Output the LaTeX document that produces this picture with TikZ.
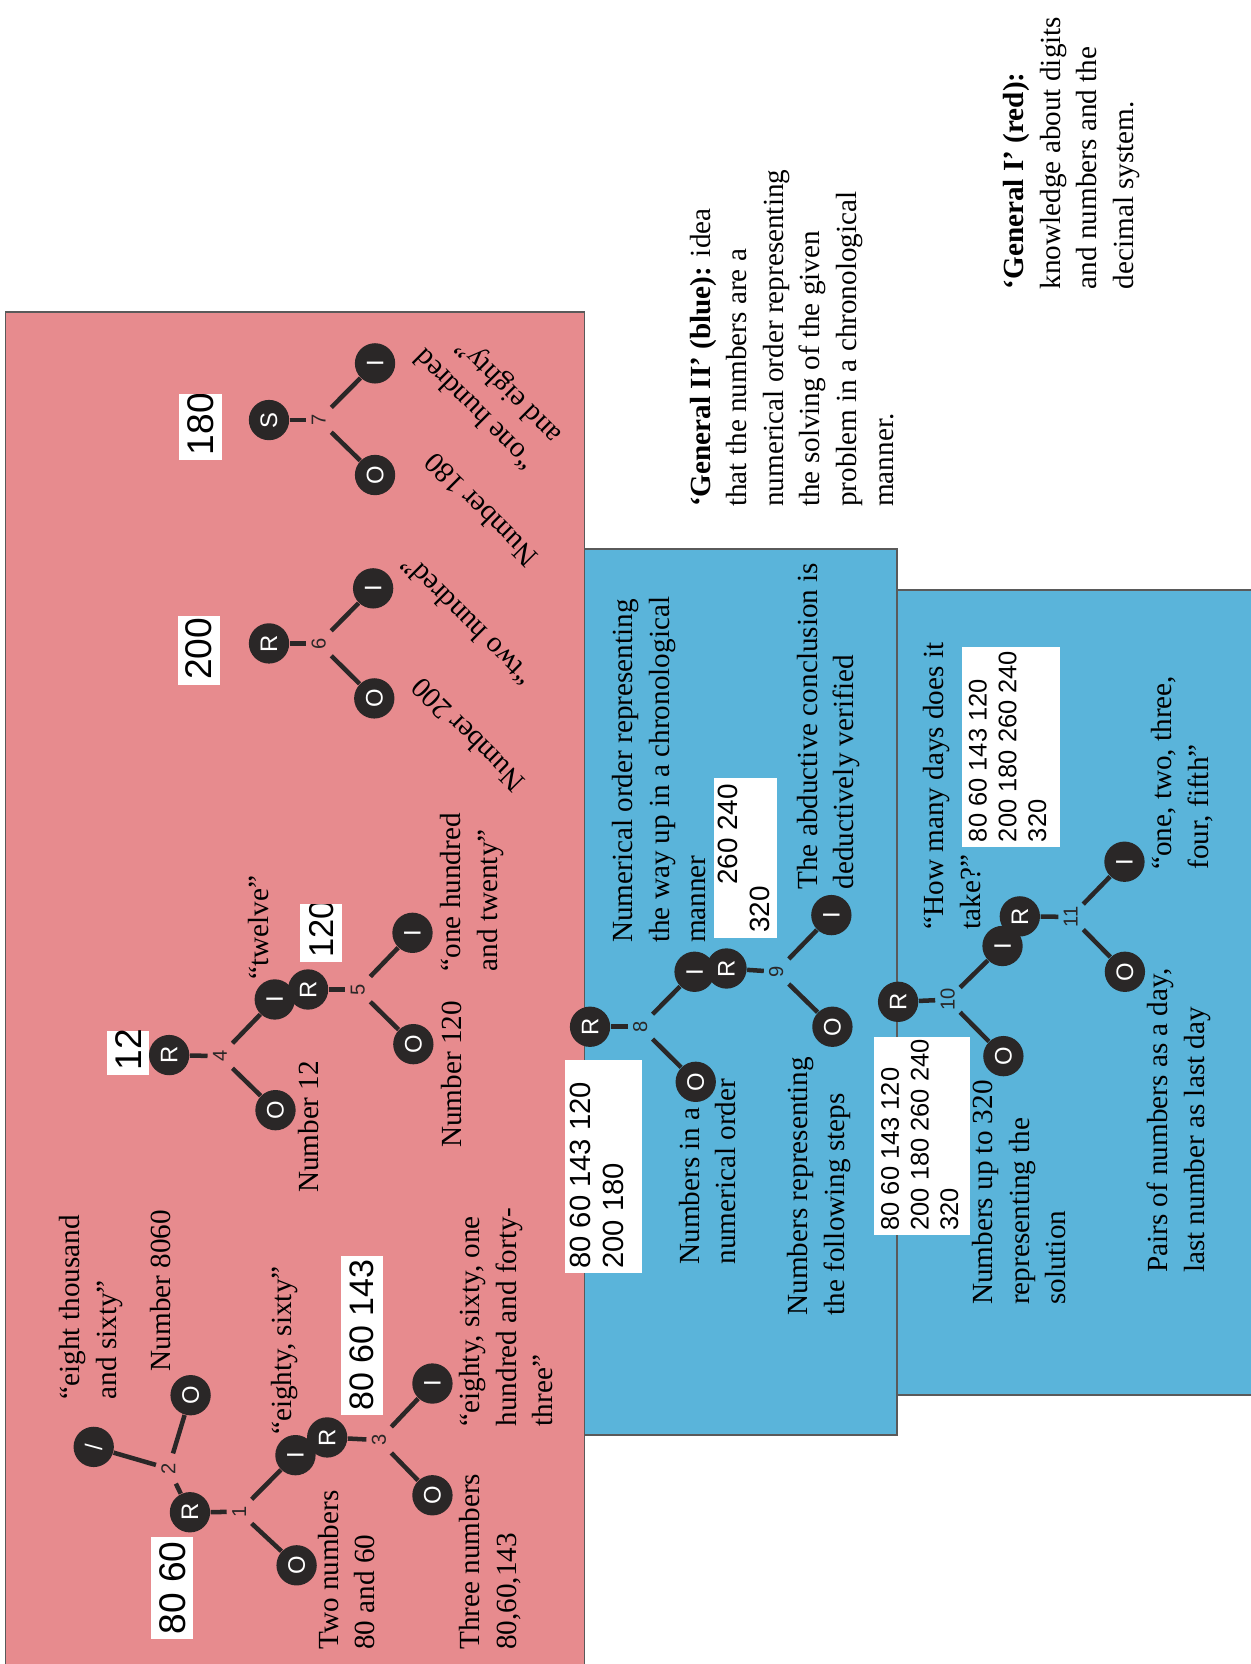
\documentclass[tikz,border=0pt]{standalone}
\usepackage{fontspec}
\setmainfont{Liberation Serif}
\newfontfamily\sansf{Liberation Sans}
\definecolor{redbg}{HTML}{E78B8E}
\definecolor{bluebg}{HTML}{5AB4DA}
\definecolor{dk}{HTML}{2A2727}
\definecolor{bord}{HTML}{5A5A5A}
\newcommand{\mf}{\fontsize{11pt}{13.8pt}\selectfont}
% name, x1, y1, x2, y2, font size, baselineskip, text, x offset
\newcommand{\hwbox}[9]{%
  \fill[white] (#2,#3) rectangle (#4,#5);
  \begin{scope}
    \clip (#2,#3) rectangle (#4,#5);
    \node[hw, font=\sansf\fontsize{#6pt}{#7pt}\selectfont] (#1) at (#2+#9,#5-4) {#8};
  \end{scope}}
\begin{document}
\begin{tikzpicture}[x=0.4pt, y=-0.4pt,
  circ/.style={circle, fill=dk, text=white, minimum size=15.2pt, inner sep=0pt, rotate=90, font=\sansf\fontsize{9pt}{10pt}\selectfont},
  lab/.style={rectangle, minimum width=11pt, minimum height=9pt, inner sep=0pt, rotate=90, text=dk, font=\sansf\fontsize{7.6pt}{8pt}\selectfont},
  edge/.style={draw=dk, line width=1.7pt},
  txt/.style={rotate=90, anchor=north west, inner sep=0pt, align=left, font=\mf, text=black, execute at begin node={\rule{0pt}{8.8pt}}},
  dtxt/.style={rotate=135, anchor=west, inner sep=0pt, font=\mf, text=black},
  dtxtb/.style={rotate=135, anchor=north west, inner sep=0pt, align=left, font=\mf, text=black, execute at begin node={\rule{0pt}{8.8pt}}},
  hw/.style={rotate=90, anchor=north west, inner sep=0pt, align=left, text=black}
]
\useasboundingbox (0,0) rectangle (1178,1568);
\fill[white] (0,0) rectangle (1178,1568);

% background panels
\filldraw[fill=redbg, draw=bord, line width=0.6pt] (5,294) rectangle (550.7,1580);
\filldraw[fill=bluebg, draw=bord, line width=0.6pt] (550.7,517.5) rectangle (845,1352.4);
\filldraw[fill=bluebg, draw=bord, line width=0.6pt] (845,556) rectangle (1190,1314.7);

% handwritten answers
\hwbox{hw1}{142.4}{1448.6}{182.1}{1544.5}{14}{15}{80 60}{7}
\hwbox{hw3}{320.9}{1183.7}{360.6}{1333.6}{12.8}{14}{80 60 143}{8}
\hwbox{hw4}{101}{971.5}{140.6}{1013}{14}{15}{12}{7}
\hwbox{hw5}{283}{852.3}{322}{906.9}{13}{14}{120}{8}
\hwbox{hw6}{167.7}{580}{207.4}{645}{14}{15}{200}{7}
\hwbox{hw7}{168.8}{371.3}{209.2}{433.5}{14}{15}{180}{7}
\hwbox{hw8}{532.5}{999}{604.7}{1200}{11}{12.5}{80 60 143 120\\200 180}{4}
\hwbox{hw9}{672.9}{733.5}{732.3}{883.4}{10.5}{12}{\hspace*{18pt}260 240\\320}{3}
\hwbox{hw10}{823.7}{977}{914}{1164}{9.6}{11.2}{80 60 143 120\\200 180 260 240\\320}{6}
\hwbox{hw11}{906.5}{610}{999}{798}{9.6}{11.2}{80 60 143 120\\200 180 260 240\\320}{6}

% trees 1-3
\node[circ] (R1) at (179,1425) {R};
\node[lab]  (L1) at (225.4,1424.6) {1};
\node[circ] (O1) at (279.5,1475) {O};
\node[circ] (I1) at (278.4,1371.2) {I};
\node[lab]  (L2) at (158.7,1383.8) {2};
\node[circ] (X2) at (88.3,1363.4) {/};
\node[circ] (O2) at (179.6,1314.7) {O};
\node[circ] (R3) at (308.3,1354.5) {R};
\node[lab]  (L3) at (357,1357) {3};
\node[circ] (O3) at (407.5,1409) {O};
\node[circ] (I3) at (407.5,1303.7) {I};
% trees 4-5
\node[circ] (R4) at (159.4,994.2) {R};
\node[lab]  (L4) at (207.3,995.2) {4};
\node[circ] (O4) at (259.6,1046.1) {O};
\node[circ] (I4) at (258.9,941.8) {I};
\node[circ] (R5) at (290.3,932.4) {R};
\node[lab]  (L5) at (337.2,932.4) {5};
\node[circ] (O5) at (389.5,983.9) {O};
\node[circ] (I5) at (388.7,879) {I};
% trees 6-7
\node[circ] (R6) at (253.5,606.3) {R};
\node[lab]  (L6) at (300.4,606.3) {6};
\node[circ] (O6) at (352.7,658.1) {O};
\node[circ] (I6) at (351.6,554.4) {I};
\node[circ] (S7) at (253.5,395.8) {S};
\node[lab]  (L7) at (300.4,395.8) {7};
\node[circ] (O7) at (353.4,447.6) {O};
\node[circ] (I7) at (353.4,342.4) {I};
% trees 8-9
\node[circ] (R8) at (556,967.5) {R};
\node[lab]  (L8) at (603.2,967.5) {8};
\node[circ] (O8) at (655.6,1019.4) {O};
\node[circ] (I8) at (654.5,915.7) {I};
\node[circ] (R9) at (684.6,912.6) {R};
\node[lab]  (L9) at (731.5,915.7) {9};
\node[circ] (O9) at (784.4,967.5) {O};
\node[circ] (I9) at (783.4,862.3) {I};
% trees 10-11
\node[circ] (R10) at (846.3,944) {R};
\node[lab]  (L10) at (893,942) {10};
\node[circ] (O10) at (945.5,995.2) {O};
\node[circ] (I10) at (944.7,891.4) {I};
\node[circ] (R11) at (961,863.5) {R};
\node[lab]  (L11) at (1009,864) {11};
\node[circ] (O11) at (1060,915.7) {O};
\node[circ] (I11) at (1059.6,812) {I};

\foreach \a/\b in {R1/L1,L1/O1,L1/I1,R1/L2,L2/X2,L2/O2,R3/L3,L3/O3,L3/I3,
  R4/L4,L4/O4,L4/I4,R5/L5,L5/O5,L5/I5,R6/L6,L6/O6,L6/I6,S7/L7,L7/O7,L7/I7,
  R8/L8,L8/O8,L8/I8,R9/L9,L9/O9,L9/I9,R10/L10,L10/O10,L10/I10,R11/L11,L11/O11,L11/I11}
  \draw[edge] (\a) -- (\b);

% texts, red panel
\node[txt] (t1) at (55.5,1319) {“eight thousand\\and sixty”};
\node[txt] (t2) at (138.5,1292.6) {Number 8060};
\node[txt] (t3) at (252,1352.4) {“eighty, sixty”};
\node[txt] (t4) at (299,1555) {Two numbers\\80 and 60};
\node[txt] (t5) at (432.4,1555) {Three numbers\\80,60,143};
\node[txt] (t6) at (432.4,1344.5) {“eighty, sixty, one\\hundred and forty-\\three”};
\node[txt] (t7) at (277.3,1124.6) {Number 12};
\node[txt] (t8) at (230.4,923.6) {“twelve”};
\node[txt] (t9) at (412.5,1082) {Number 120};
\node[txt] (t10) at (414.3,915.7) {“one hundred\\and twenty”};
\node[dtxt] (t11) at (490,742) {Number 200};
\node[dtxt] (t12) at (497,643) {“two hundred”};
\node[dtxt] (t13) at (502,530) {Number 180};
\node[dtxtb] (t14) at (492,447) {“one hundred\\and eighty”};
% texts, blue panels
\node[txt] (t15) at (639.3,1192) {Numbers in a\\numerical order};
\node[txt] (t16) at (741.4,1240) {Numbers representing\\the following steps};
\node[txt] (t17) at (576.6,889) {Numerical order representing\\the way up in a chronological\\manner};
\node[txt] (t18) at (750.5,838.7) {The abductive conclusion is\\deductively verified};
\node[txt] (t19) at (869.6,876.4) {“How many days does it\\take?”};
\node[txt] (t20) at (1084.5,819.9) {“one, two, three,\\four, fifth”};
\node[txt] (t21) at (915.7,1230) {Numbers up to 320\\representing the\\solution};
\node[txt] (t22) at (1080.6,1200) {Pairs of numbers as a day,\\last number as last day};
% legends
\node[txt] (g2) at (649.6,478) {\textbf{‘General II’ (blue):} idea\\that the numbers are a\\numerical order representing\\the solving of the given\\problem in a chronological\\manner.};
\node[txt] (g1) at (945,273) {\textbf{‘General I’ (red):}\\knowledge about digits\\and numbers and the\\decimal system.};
\end{tikzpicture}
\end{document}
